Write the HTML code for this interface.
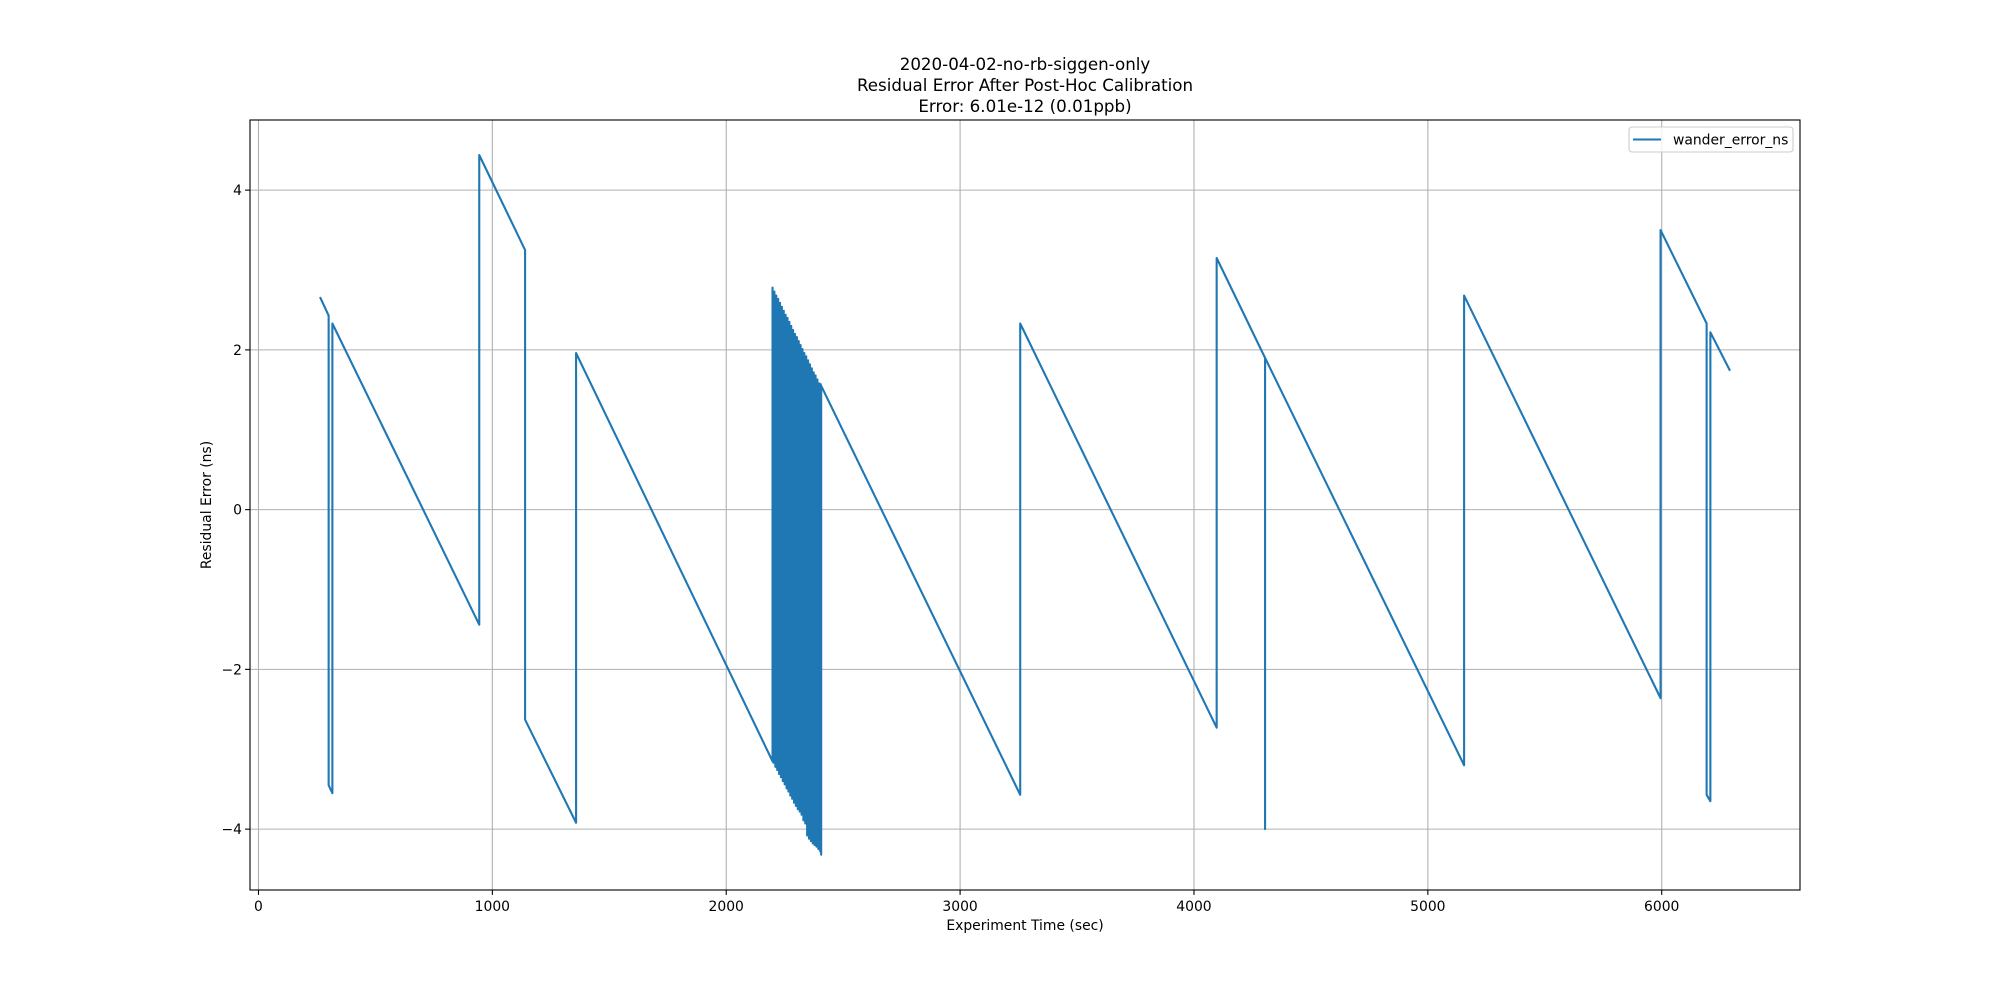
<!DOCTYPE html>
<html><head><meta charset="utf-8"><style>
html,body{margin:0;padding:0;background:#fff;}
svg{display:block;font-family:"DejaVu Sans","Liberation Sans",sans-serif;}
</style></head><body>
<svg id="chart" width="2000" height="1000" viewBox="0 0 2000 1000" xmlns="http://www.w3.org/2000/svg">
<rect width="2000" height="1000" fill="#fff"/>
<g font-size="16.7" text-anchor="middle" fill="#000">
<text x="1025" y="70">2020-04-02-no-rb-siggen-only</text>
<text x="1025" y="91">Residual Error After Post-Hoc Calibration</text>
<text x="1025" y="112">Error: 6.01e-12 (0.01ppb)</text>
</g>
<g id="grid"></g>
<g id="ticks" font-size="13.9" fill="#000"></g>
<g id="series"></g>
<rect x="250" y="120" width="1550" height="770" fill="none" stroke="#000" stroke-width="1.1"/>
<text x="1025" y="930" font-size="13.9" text-anchor="middle">Experiment Time (sec)</text>
<text transform="translate(211,505) rotate(-90)" font-size="13.9" text-anchor="middle">Residual Error (ns)</text>
<g>
<rect x="1629" y="127" width="164" height="25" rx="3" fill="#fff" fill-opacity="0.8" stroke="#ccc" stroke-width="1.1"/>
<line x1="1633" y1="139.5" x2="1661" y2="139.5" stroke="#1f77b4" stroke-width="2.1"/>
<text x="1673" y="144.5" font-size="13.9">wander_error_ns</text>
</g>
</svg>
<script>
const seriesTimes = [265,300,300,316,316,944,944,1140,1140,1358,1358,2198,2198,
2202,2206,2210,2214,2218,2222,2226,2230,2234,2238,2242,2246,2250,2254,2258,2262,2266,2270,2274,2278,2282,2286,2290,2294,2298,2302,2306,2310,2314,2318,2322,2326,2330,2334,2338,2342,2346,2350,2354,2358,2362,2366,2370,2374,2378,2382,2386,2390,2394,2398,2402,2404,2406,2406,
3257,3257,4097,4097,4304,4304,4304,5155,5155,5995,5995,6192,6192,6208,6208,6290];
const seriesValues = [2.65,2.43,-3.45,-3.55,2.33,-1.44,4.44,3.25,-2.63,-3.92,1.96,-3.15,2.78,
-3.17,2.73,-3.22,2.68,-3.26,2.64,-3.31,2.59,-3.35,2.54,-3.40,2.49,-3.44,2.44,-3.49,2.40,-3.53,2.35,-3.58,2.30,-3.62,2.25,-3.67,2.20,-3.71,2.16,-3.75,2.11,-3.78,2.06,-3.82,2.01,-3.89,1.96,-3.93,1.92,-4.08,1.87,-4.12,1.82,-4.15,1.77,-4.18,1.72,-4.20,1.68,-4.22,1.63,-4.25,1.58,-4.28,1.57,-4.32,1.55,
-3.57,2.33,-2.73,3.15,1.90,-4.00,1.90,-3.20,2.68,-2.36,3.50,2.33,-3.57,-3.65,2.22,1.75];
const xTickValues = [0,1000,2000,3000,4000,5000,6000];
const xTickLabels = ["0","1000","2000","3000","4000","5000","6000"];
const yTickValues = [-4,-2,0,2,4];
const yTickLabels = ["\u22124","\u22122","0","2","4"];

const NS="http://www.w3.org/2000/svg";
const PL=250,PR=1800,PT=120,PB=890;
const xMin=-36.25,xMax=6591.25,yMin=-4.762,yMax=4.878;
function xs(v){return PL+(v-xMin)/(xMax-xMin)*(PR-PL);}
function ys(v){return PB-(v-yMin)/(yMax-yMin)*(PB-PT);}
function mk(tag,attrs,parent){const e=document.createElementNS(NS,tag);for(const k in attrs)e.setAttribute(k,attrs[k]);parent.appendChild(e);return e;}
const grid=document.getElementById('grid'),ticks=document.getElementById('ticks'),series=document.getElementById('series');
xTickValues.forEach((v,i)=>{
  const x=xs(v);
  const g=mk('line',{x1:x,y1:PT,x2:x,y2:PB,stroke:'#b0b0b0','stroke-width':1.1},grid);
  
  
  const t=mk('line',{x1:x,y1:PB,x2:x,y2:PB+4.9,stroke:'#000','stroke-width':1.1},ticks);
  
  
  const l=mk('text',{x:x,y:PB+21,'text-anchor':'middle'},ticks);
  l.textContent=xTickLabels[i];
  
  
});
yTickValues.forEach((v,i)=>{
  const y=ys(v);
  const g=mk('line',{x1:PL,y1:y,x2:PR,y2:y,stroke:'#b0b0b0','stroke-width':1.1},grid);
  
  
  const t=mk('line',{x1:PL-4.9,y1:y,x2:PL,y2:y,stroke:'#000','stroke-width':1.1},ticks);
  
  
  const l=mk('text',{x:PL-8,y:y+5,'text-anchor':'end'},ticks);
  l.textContent=yTickLabels[i];
  
  
});
const pts=seriesTimes.map((t,i)=>xs(t).toFixed(2)+','+ys(seriesValues[i]).toFixed(2)).join(' ');
const line=mk('polyline',{points:pts,fill:'none',stroke:'#1f77b4','stroke-width':2.1,'stroke-linejoin':'round','stroke-linecap':'square'},series);


</script>
</body></html>
